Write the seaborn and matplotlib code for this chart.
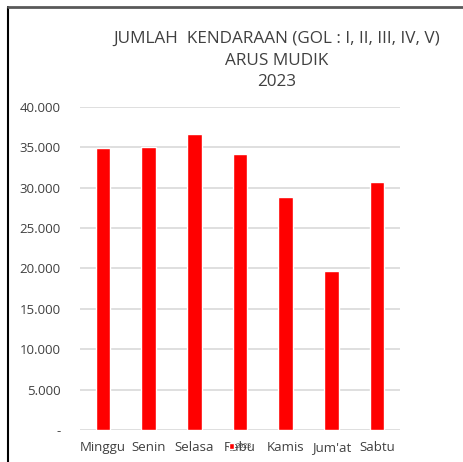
import pandas as pd
import matplotlib
matplotlib.use('Agg')
import matplotlib.pyplot as plt
from matplotlib.lines import Line2D
from matplotlib.ticker import FuncFormatter
import seaborn as sns

hari = ['Minggu', 'Senin', 'Selasa', 'Rabu', 'Kamis', "Jum'at", 'Sabtu']
kendaraan_2023 = [34880, 35080, 36670, 34170, 28870, 19700, 30670]
y_ticks = [0, 5000, 10000, 15000, 20000, 25000, 30000, 35000, 40000]

sns.set_style('white')
plt.rcParams['font.family'] = ['Open Sans', 'DejaVu Sans']

df = pd.DataFrame({'Hari': hari, 'Jumlah': kendaraan_2023})

fig = plt.figure(figsize=(4.63, 4.62), dpi=100)
ax = fig.add_axes([0.173, 0.069, 0.691, 0.700])

sns.barplot(data=df, x='Hari', y='Jumlah', color='#ff0000', width=0.32,
            saturation=1, label='2023', ax=ax, zorder=3)

ax.set_ylim(0, 40000)
ax.set_yticks(y_ticks)
ax.yaxis.set_major_formatter(FuncFormatter(
    lambda v, p: '-' if v == 0 else f'{int(v):,}'.replace(',', '.')))
ax.grid(axis='y', color='#d9d9d9', linewidth=1.2, zorder=0)
ax.grid(axis='x', visible=False)
for s in ax.spines.values():
    s.set_visible(False)
ax.set_xlabel('')
ax.set_ylabel('')
ax.tick_params(axis='both', length=0, colors='#404040', labelsize=9.5)
ax.tick_params(axis='x', pad=8)
ax.tick_params(axis='y', pad=14)

leg = ax.legend(loc='center', bbox_to_anchor=(0.5, -0.052), fontsize=5,
                frameon=False, handlelength=0.8, handleheight=0.8,
                handletextpad=0.2, borderpad=0)
for t in leg.get_texts():
    t.set_color('#404040')

fig.text(0.598, 0.869, 'JUMLAH  KENDARAAN (GOL : I, II, III, IV, V)\nARUS MUDIK\n2023',
         ha='center', va='center', fontsize=12.3, color='#404040',
         linespacing=1.48)

# bingkai kiri dan atas
fig.add_artist(Line2D([0.018, 0.018], [0, 0.984], color='black',
                      linewidth=1.5, transform=fig.transFigure))
fig.add_artist(Line2D([0.017, 1.0], [0.984, 0.984], color='#595959',
                      linewidth=2, transform=fig.transFigure, zorder=10))

fig.savefig('out.png', dpi=100)
